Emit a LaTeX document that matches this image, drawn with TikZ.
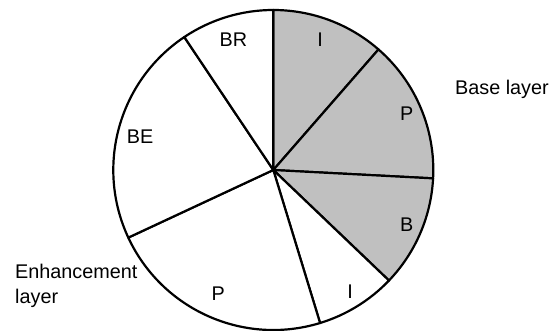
\documentclass[tikz,border=0pt]{standalone}
\usepackage{fontspec}
\setmainfont{Liberation Sans}
\usetikzlibrary{positioning, calc}

\definecolor{baseshade}{RGB}{192,192,192}

\begin{document}
\begin{tikzpicture}[
    x=1pt, y=1pt,
    font=\fontsize{19.8}{25}\selectfont,
    baseslice/.style={fill=baseshade, draw=black, line width=2.2pt, line join=round},
    enhslice/.style={fill=white, draw=black, line width=2.2pt, line join=round},
    slicelabel/.style={inner sep=0pt},
    layerlabel/.style={inner sep=0pt, align=left}
  ]
    \useasboundingbox (0,0) rectangle (556,331);
    \coordinate (hub) at (273.3,161);
    % base layer slices: I, P, B
    \foreach \a/\b in {90/48.9, 48.9/-3, -3/-43.7}
      \draw[baseslice] (hub) -- ($(hub)+(\a:160)$) arc[start angle=\a, end angle=\b, radius=160] -- cycle;
    % enhancement layer slices: I, P, BE, BR
    \foreach \a/\b in {-43.7/-73, -73/-155, 205/123.8, 123.8/90}
      \draw[enhslice] (hub) -- ($(hub)+(\a:160)$) arc[start angle=\a, end angle=\b, radius=160] -- cycle;
    % slice labels
    \node[slicelabel] (baseI) at (320,291) {I};
    \node[slicelabel] (baseP) at (406.7,217.7) {P};
    \node[slicelabel] (baseB) at (406.7,106) {B};
    \node[slicelabel] (enhI) at (350,39.3) {I};
    \node[slicelabel] (enhP) at (218.3,37.7) {P};
    \node[slicelabel] (enhBE) at (140,194.3) {BE};
    \node[slicelabel] (enhBR) at (233.3,291) {BR};
    % layer captions
    \node[layerlabel, anchor=west] (baselayer) at (455,241.5) {Base layer};
    \node[layerlabel, anchor=west] (enhlayer) at (15,45.2) {Enhancement\\layer};
\end{tikzpicture}
\end{document}
